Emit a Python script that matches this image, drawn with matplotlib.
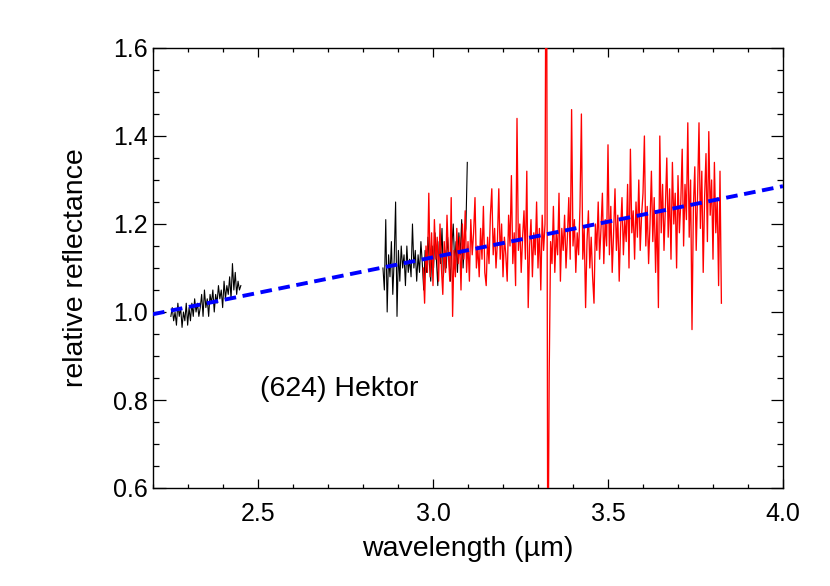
import numpy as np
import matplotlib
matplotlib.use('Agg')
import matplotlib.pyplot as plt
from matplotlib.ticker import MultipleLocator

plt.rcParams['font.family'] = ['Liberation Sans', 'DejaVu Sans']

# short-wavelength black segment (2.25 - 2.45 um)
black1_y = [0.99, 1.01, 0.98, 1.00, 0.97, 1.02, 0.99, 1.01, 0.965, 1.00,
            0.98, 1.02, 0.97, 1.01, 0.98, 1.02, 0.99, 1.03, 1.00, 1.02,
            0.99, 1.01, 1.04, 0.99, 1.05, 1.01, 1.03, 0.99, 1.04, 1.02,
            1.05, 1.00, 1.04, 1.02, 1.06, 1.03, 1.05, 1.01, 1.07, 1.03,
            1.06, 1.04, 1.08, 1.03, 1.11, 1.05, 1.09, 1.04, 1.07, 1.05,
            1.06]
black1_range = (2.251, 2.451)

# second black segment (2.86 - 3.10 um)
black2_y = [1.10, 1.05, 1.21, 1.00, 1.13, 1.08, 1.16, 1.04, 1.12, 1.25,
            0.99, 1.14, 1.07, 1.15, 1.10, 1.13, 1.06, 1.15, 1.09, 1.12,
            1.08, 1.20, 1.10, 1.14, 1.07, 1.13, 1.09, 1.16, 1.11, 1.05,
            1.14, 1.09, 1.17, 1.11, 1.07, 1.15, 1.10, 1.18, 1.12, 1.06,
            1.16, 1.11, 1.19, 1.08, 1.14, 1.10, 1.17, 1.12, 1.07, 1.15,
            1.20, 1.11, 1.16, 1.09, 1.18, 1.13, 1.21, 1.10, 1.16, 1.19,
            1.34]
black2_range = (2.857, 3.098)

# red L-band spectrum (2.97 - 3.82 um)
red_y = [1.10, 1.02, 1.15, 1.09, 1.27, 1.08, 1.18, 1.06, 1.21, 1.12,
         1.17, 1.07, 1.20, 1.10, 1.04, 1.16, 1.09, 1.22, 1.13, 1.07,
         1.26, 0.99, 1.14, 1.08, 1.19, 1.11,
         1.17, 1.05, 1.20, 1.12, 1.23, 1.09, 1.16, 1.07, 1.21, 1.13,
         1.18, 1.26, 1.10, 1.15, 1.08, 1.19, 1.12, 1.24, 1.09, 1.06,
         1.17, 1.11, 1.22, 1.28, 1.13,
         1.19, 1.10, 1.16, 1.28, 1.12, 1.20, 1.08, 1.17, 1.13, 1.07,
         1.22, 1.15, 1.31, 1.11, 1.18, 1.06, 1.44, 1.14, 1.20, 1.09,
         1.17, 1.23, 1.12, 1.32, 1.01,
         1.15, 1.21, 1.08, 1.18, 1.13, 1.25, 1.10, 1.19, 1.05, 1.22,
         1.14, 1.20, 2.20, 0.30, 0.86, 1.16, 1.11, 1.24, 1.09, 1.18,
         1.13, 1.27, 1.07, 1.19, 1.14,
         1.22, 1.10, 1.17, 1.26, 1.12, 1.46, 1.15, 1.21, 1.09, 1.18,
         1.13, 1.24, 1.45, 1.12, 1.19, 1.01, 1.16, 1.23, 1.10, 1.17,
         1.08, 1.02, 1.20, 1.14, 1.25,
         1.12, 1.19, 1.27, 1.11, 1.21, 1.15, 1.38, 1.13, 1.24, 1.09,
         1.18, 1.28, 1.14, 1.22, 1.07, 1.19, 1.26, 1.13, 1.21, 1.16,
         1.29, 1.10, 1.37, 1.18, 1.23,
         1.12, 1.25, 1.17, 1.30, 1.14, 1.22, 1.27, 1.40, 1.15, 1.24,
         1.11, 1.20, 1.32, 1.16, 1.26, 1.09, 1.23, 1.01, 1.40, 1.18,
         1.29, 1.14, 1.24, 1.35, 1.17,
         1.28, 1.12, 1.34, 1.20, 1.27, 1.10, 1.31, 1.18, 1.25, 1.37,
         1.15, 1.29, 1.21, 1.43, 1.17, 1.30, 0.96, 1.24, 1.33, 1.14,
         1.27, 1.43, 1.19, 1.32, 1.09, 1.26, 1.36, 1.16, 1.41, 1.22,
         1.30, 1.12, 1.34, 1.18, 1.26, 1.06, 1.32, 1.02]
red_range = (2.972, 3.824)

# linear continuum fit
fit_x = [2.2, 4.0]
fit_y = [0.995, 1.286]

black1_x = np.linspace(black1_range[0], black1_range[1], len(black1_y))
black2_x = np.linspace(black2_range[0], black2_range[1], len(black2_y))
red_x = np.linspace(red_range[0], red_range[1], len(red_y))

fig = plt.figure(figsize=(8.3, 5.86), dpi=100)
ax = fig.add_axes([153 / 830, 1 - 488 / 586, 630 / 830, 440 / 586])

ax.plot(black1_x, black1_y, color='black', lw=0.8, zorder=2)
ax.plot(black2_x, black2_y, color='black', lw=0.8, zorder=2)
ax.plot(red_x, red_y, color='#ff0000', lw=0.95, zorder=3)
ax.plot(fit_x, fit_y, color='#0000ff', lw=2.8, dashes=(3.0, 1.7), zorder=4)

ax.set_xlim(2.2, 4.0)
ax.set_ylim(0.6, 1.6)

ax.xaxis.set_major_locator(MultipleLocator(0.5))
ax.xaxis.set_minor_locator(MultipleLocator(0.1))
ax.yaxis.set_major_locator(MultipleLocator(0.2))
ax.yaxis.set_minor_locator(MultipleLocator(0.05))
ax.xaxis.set_major_formatter(plt.FormatStrFormatter('%.1f'))
ax.yaxis.set_major_formatter(plt.FormatStrFormatter('%.1f'))

ax.tick_params(axis='x', which='both', direction='in', top=True, bottom=True,
               labelsize=18, pad=10, width=0.9)
ax.tick_params(axis='x', which='major', length=6.3)
ax.tick_params(axis='x', which='minor', length=3.2)
ax.tick_params(axis='y', which='both', direction='in', left=True, right=True,
               labelsize=18, pad=4, width=0.9)
ax.tick_params(axis='y', which='major', length=9)
ax.tick_params(axis='y', which='minor', length=4.5)

for sp in ax.spines.values():
    sp.set_linewidth(1.0)

ax.set_xlabel('wavelength (µm)', fontsize=20.5, labelpad=7)
ax.set_ylabel('relative reflectance', fontsize=20.5, labelpad=17)

ax.text(2.506, 0.826, '(624) Hektor', fontsize=20.5, ha='left', va='center')

fig.savefig('out.png', dpi=100)
